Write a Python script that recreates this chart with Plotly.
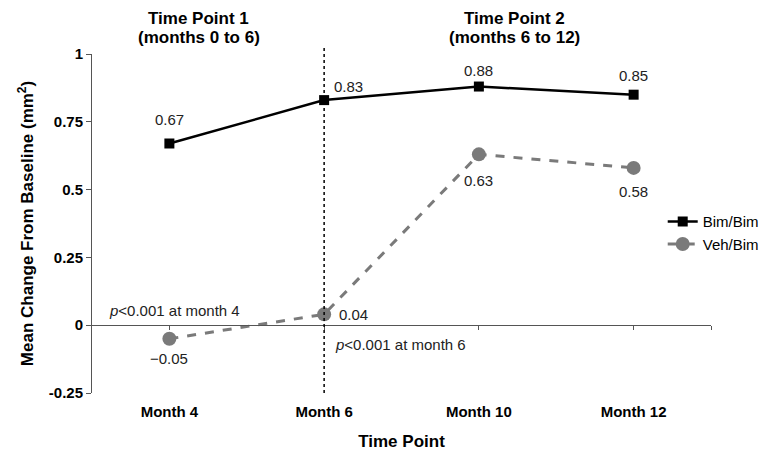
import plotly.graph_objects as go

TIME_POINTS = ["Month 4", "Month 6", "Month 10", "Month 12"]
BIM_BIM = [0.67, 0.83, 0.88, 0.85]
VEH_BIM = [-0.05, 0.04, 0.63, 0.58]
Y_TICKS = [-0.25, 0, 0.25, 0.5, 0.75, 1]
Y_TICK_TEXT = ["-0.25", "0", "0.25", "0.5", "0.75", "1"]

FONT = "Liberation Sans, Arial, sans-serif"
LABEL_COLOR = "#222222"
x_pos = list(range(len(TIME_POINTS)))

# label offsets (px) for the value labels, per point
BIM_SHIFTS = [(0, 24), (8, 14), (0, 16), (0, 19)]
VEH_SHIFTS = [(0, -20), (13, 0), (0, -26), (0, -24)]

fig = go.Figure()

fig.add_trace(go.Scatter(
    x=x_pos, y=BIM_BIM, name="Bim/Bim",
    mode="lines+markers",
    line=dict(color="black", width=2.5),
    marker=dict(symbol="square", size=10, color="black"),
))

fig.add_trace(go.Scatter(
    x=x_pos, y=VEH_BIM, name="Veh/Bim",
    mode="lines+markers",
    line=dict(color="#7a7a7a", width=3, dash="dash"),
    marker=dict(symbol="circle", size=14, color="#7a7a7a"),
))

# x axis line drawn through y = 0 with ticks at each time point
fig.add_trace(go.Scatter(x=[None], y=[None], xaxis="x2", showlegend=False))

for series, shifts in ((BIM_BIM, BIM_SHIFTS), (VEH_BIM, VEH_SHIFTS)):
    for x, v, (dx, dy) in zip(x_pos, series, shifts):
        fig.add_annotation(
            x=x, y=v, xshift=dx, yshift=dy, showarrow=False,
            xanchor="left" if dx else "center",
            text=f"{v:.2f}".replace("-", "\u2212"),
            font=dict(size=15, color=LABEL_COLOR),
        )

# dotted divider between the two time periods
fig.add_shape(type="line", xref="x", yref="paper", x0=1, x1=1, y0=0, y1=1.02,
              line=dict(color="black", width=1.5, dash="dot"))

# period headers, one annotation per line
for cx, lines in ((0.19, ("Time Point 1", "(months 0 to 6)")),
                  (2.23, ("Time Point 2", "(months 6 to 12)"))):
    for yy, line in zip((1.106, 1.050), lines):
        fig.add_annotation(x=cx, y=yy, xref="x", yref="paper", showarrow=False,
                           yanchor="middle",
                           text=f"<b>{line}</b>", font=dict(size=17, color="black"))

fig.add_annotation(x=-0.4, y=0.055, xref="x", yref="y", xanchor="left",
                   showarrow=False, text="<i>p</i><0.001 at month 4",
                   font=dict(size=15, color=LABEL_COLOR))
fig.add_annotation(x=1.06, y=-0.072, xref="x", yref="y", xanchor="left",
                   showarrow=False, text="<i>p</i><0.001 at month 6",
                   font=dict(size=15, color=LABEL_COLOR))

fig.update_layout(
    width=776, height=463,
    margin=dict(l=92, r=59, t=54, b=70),
    paper_bgcolor="white", plot_bgcolor="white",
    font=dict(family=FONT, color="black"),
    showlegend=True,
    legend=dict(x=0.922, y=0.554, xanchor="left", yanchor="top",
                font=dict(size=15), bgcolor="rgba(0,0,0,0)",
                itemwidth=30, tracegroupgap=4),
    xaxis=dict(
        range=[-0.5, 3.5], tickvals=x_pos, ticktext=TIME_POINTS,
        showgrid=False, zeroline=False, showline=False, ticks="",
        tickfont=dict(size=15, family=FONT, weight="bold"),
        ticklabelstandoff=8, automargin=False,
        title=dict(text="<b>Time Point</b>", font=dict(size=17), standoff=16),
    ),
    xaxis2=dict(
        overlaying="x", anchor="free", position=0.2, range=[-0.5, 3.5],
        tickvals=x_pos + [3.5], showticklabels=False, ticks="outside",
        ticklen=4, tickcolor="#555555", showline=True, linecolor="#555555",
        linewidth=1, showgrid=False, zeroline=False,
    ),
    yaxis=dict(
        range=[-0.25, 1], tickvals=Y_TICKS, ticktext=Y_TICK_TEXT,
        showgrid=False, zeroline=False, showline=True, linecolor="#555555",
        ticks="outside", ticklen=5, tickcolor="#555555",
        tickfont=dict(size=15, weight="bold"), automargin=False,
        title=dict(text="<b>Mean Change From Baseline (mm<sup>2</sup>)</b>",
                   font=dict(size=17), standoff=10),
    ),
)

# drop the page's default body margin so the figure sits at the window corner
fig.write_html("out.html", config={"displayModeBar": False},
               post_script="document.body.style.margin='0';")
